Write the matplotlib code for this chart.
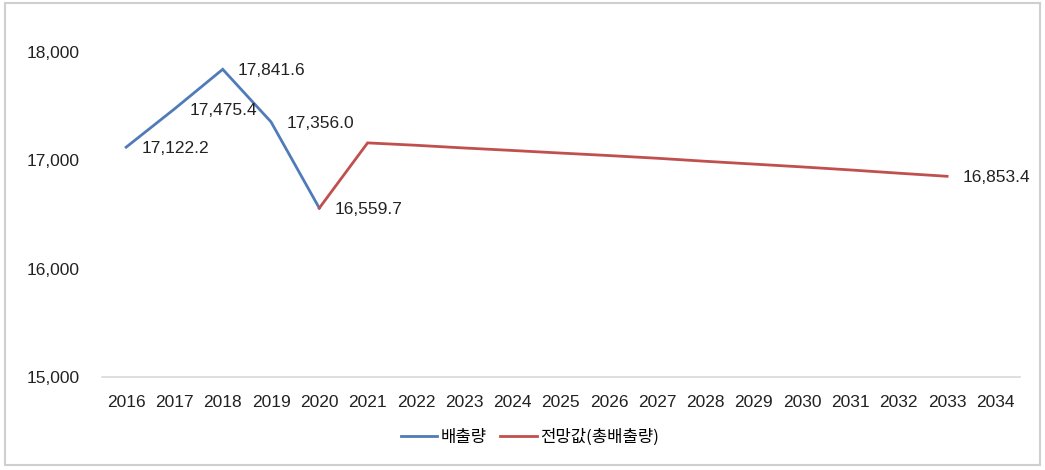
import matplotlib.pyplot as plt
from matplotlib.patches import Rectangle

plt.rcParams['font.family'] = ['Liberation Sans', 'Noto Sans CJK KR', 'DejaVu Sans']

years = [str(y) for y in range(2016, 2035)]

# 배출량 (actual), 2016-2020
actual_years = ['2016', '2017', '2018', '2019', '2020']
actual = [17122.2, 17475.4, 17841.6, 17356.0, 16559.7]

# 전망값 (forecast), 2020-2033
fc_years = [str(y) for y in range(2020, 2034)]
forecast = [16559.7, 17162, 17140, 17115, 17092, 17068, 17045, 17020,
            16992, 16966, 16940, 16912, 16882, 16853.4]

labels = {'2016': 17122.2, '2017': 17475.4, '2018': 17841.6,
          '2019': 17356.0, '2020': 16559.7, '2033': 16853.4}

blue = '#4f7cb8'
red = '#c0504d'

fig = plt.figure(figsize=(10.45, 4.7), dpi=100)
ax = fig.add_axes([0.0976, 0.198, 0.878, 0.691])

idx = {y: i for i, y in enumerate(years)}
ax.plot([idx[y] for y in actual_years], actual, color=blue, lw=2.0,
        label='배출량', solid_joinstyle='miter')
ax.plot([idx[y] for y in fc_years], forecast, color=red, lw=2.0,
        label='전망값(총배출량)', solid_joinstyle='miter')

for y, v in labels.items():
    ax.annotate(f'{v:,.1f}', (idx[y], v), xytext=(11, -1),
                textcoords='offset points', ha='left', va='center',
                fontsize=12.5, color='#222222')

ax.set_xlim(-0.5, len(years) - 0.5)
ax.set_ylim(15000, 18000)
ax.set_xticks(range(len(years)))
ax.set_xticklabels(years)
ax.set_yticks([15000, 16000, 17000, 18000])
ax.set_yticklabels(['15,000', '16,000', '17,000', '18,000'])
ax.tick_params(axis='x', length=0, pad=13, labelsize=12.5, labelcolor='#222222')
ax.tick_params(axis='y', length=0, pad=16, labelsize=12.5, labelcolor='#222222')

for s in ['top', 'right', 'left']:
    ax.spines[s].set_visible(False)
ax.spines['bottom'].set_color('#d9d9d9')
ax.spines['bottom'].set_linewidth(1.2)

fig.legend(loc='center', bbox_to_anchor=(0.507, 0.07), ncol=2, frameon=False,
           fontsize=12, handlelength=2.2, columnspacing=0.8, handletextpad=0.2,
           prop={'family': ['Noto Sans CJK KR'], 'size': 12})

fig.patches.append(Rectangle((0.005, 0.01), 0.99, 0.983, transform=fig.transFigure,
                             fill=False, edgecolor='#cfcfcf', lw=1.5))

fig.savefig('out.png', dpi=100)
